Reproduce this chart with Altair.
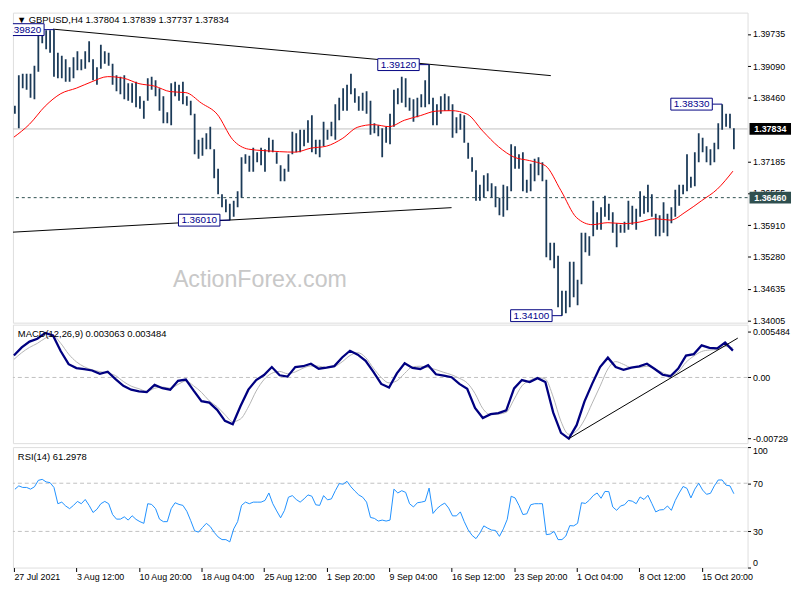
import json
import altair as alt
import pandas as pd

# ---------------- text ----------------
SYMBOL_TITLE = "\u25BC GBPUSD,H4  1.37804 1.37839 1.37737 1.37834"
MACD_TITLE = "MACD(12,26,9) 0.003063 0.003484"
RSI_TITLE = "RSI(14) 61.2978"
WATERMARK = "ActionForex.com"

# ---------------- price bars (each bar = two H4 bars) ----------------
HIGH = [
    1.3830, 1.3891, 1.3894, 1.3894, 1.3894, 1.3910, 1.3975, 1.3981, 1.3981, 1.3981,
    1.3982, 1.3936, 1.3930, 1.3923, 1.3907, 1.3927, 1.3939, 1.3923, 1.3939, 1.3959,
    1.3923, 1.3907, 1.3952, 1.3939, 1.3936, 1.3914, 1.3891, 1.3888, 1.3891, 1.3875,
    1.3875, 1.3878, 1.3849, 1.3840, 1.3885, 1.3888, 1.3881, 1.3865, 1.3849, 1.3817,
    1.3875, 1.3878, 1.3872, 1.3878, 1.3849, 1.3840, 1.3814, 1.3762, 1.3766, 1.3775,
    1.3788, 1.3743, 1.3704, 1.3653, 1.3643, 1.3634, 1.3640, 1.3659, 1.3727, 1.3733,
    1.3730, 1.3746, 1.3737, 1.3746, 1.3743, 1.3766, 1.3762, 1.3737, 1.3711, 1.3704,
    1.3733, 1.3778, 1.3775, 1.3782, 1.3782, 1.3801, 1.3811, 1.3762, 1.3762, 1.3798,
    1.3782, 1.3798, 1.3833, 1.3846, 1.3865, 1.3872, 1.3894, 1.3865, 1.3849, 1.3856,
    1.3859, 1.3840, 1.3795, 1.3791, 1.3785, 1.3788, 1.3814, 1.3862, 1.3865, 1.3888,
    1.3885, 1.3846, 1.3843, 1.3846, 1.3853, 1.3881, 1.3912, 1.3846, 1.3833, 1.3849,
    1.3854, 1.3849, 1.3833, 1.3807, 1.3814, 1.3811, 1.3756, 1.3727, 1.3701, 1.3672,
    1.3691, 1.3695, 1.3675, 1.3669, 1.3646, 1.3672, 1.3669, 1.3753, 1.3749, 1.3733,
    1.3737, 1.3682, 1.3714, 1.3724, 1.3727, 1.3717, 1.3682, 1.3556, 1.3556, 1.3530,
    1.3460, 1.3460, 1.3518, 1.3518, 1.3482, 1.3576, 1.3576, 1.3569, 1.3640, 1.3617,
    1.3627, 1.3650, 1.3634, 1.3617, 1.3595, 1.3592, 1.3598, 1.3640, 1.3630, 1.3624,
    1.3659, 1.3650, 1.3672, 1.3653, 1.3614, 1.3611, 1.3637, 1.3614, 1.3627, 1.3662,
    1.3672, 1.3672, 1.3733, 1.3688, 1.3737, 1.3775, 1.3766, 1.3749, 1.3743, 1.3756,
    1.3795, 1.3833, 1.3814, 1.3814, 1.3785,
]
LOW = [
    1.3814, 1.3785, 1.3865, 1.3862, 1.3846, 1.3843, 1.3898, 1.3955, 1.3943, 1.3936,
    1.3888, 1.3885, 1.3885, 1.3878, 1.3878, 1.3885, 1.3901, 1.3901, 1.3904, 1.3917,
    1.3881, 1.3872, 1.3904, 1.3914, 1.3910, 1.3872, 1.3859, 1.3853, 1.3843, 1.3840,
    1.3836, 1.3827, 1.3824, 1.3804, 1.3840, 1.3862, 1.3849, 1.3820, 1.3795, 1.3795,
    1.3791, 1.3849, 1.3840, 1.3833, 1.3830, 1.3811, 1.3733, 1.3724, 1.3730, 1.3743,
    1.3743, 1.3685, 1.3653, 1.3627, 1.3617, 1.3601, 1.3608, 1.3627, 1.3646, 1.3714,
    1.3698, 1.3698, 1.3717, 1.3711, 1.3698, 1.3737, 1.3737, 1.3714, 1.3679, 1.3679,
    1.3698, 1.3733, 1.3737, 1.3737, 1.3749, 1.3756, 1.3737, 1.3733, 1.3727, 1.3749,
    1.3762, 1.3769, 1.3762, 1.3801, 1.3820, 1.3820, 1.3853, 1.3836, 1.3820, 1.3820,
    1.3814, 1.3772, 1.3775, 1.3769, 1.3727, 1.3756, 1.3753, 1.3788, 1.3833, 1.3836,
    1.3827, 1.3820, 1.3798, 1.3807, 1.3827, 1.3827, 1.3833, 1.3791, 1.3791, 1.3814,
    1.3820, 1.3820, 1.3766, 1.3775, 1.3782, 1.3756, 1.3724, 1.3698, 1.3640, 1.3640,
    1.3646, 1.3659, 1.3646, 1.3627, 1.3611, 1.3608, 1.3621, 1.3659, 1.3704, 1.3704,
    1.3659, 1.3656, 1.3659, 1.3679, 1.3691, 1.3679, 1.3527, 1.3521, 1.3505, 1.3427,
    1.3410, 1.3415, 1.3427, 1.3447, 1.3431, 1.3473, 1.3537, 1.3530, 1.3569, 1.3582,
    1.3582, 1.3608, 1.3601, 1.3576, 1.3547, 1.3576, 1.3576, 1.3582, 1.3592, 1.3582,
    1.3608, 1.3614, 1.3617, 1.3608, 1.3569, 1.3569, 1.3576, 1.3569, 1.3595, 1.3608,
    1.3630, 1.3653, 1.3659, 1.3666, 1.3669, 1.3717, 1.3737, 1.3717, 1.3711, 1.3717,
    1.3743, 1.3782, 1.3788, 1.3785, 1.3743,
]

# ---------------- moving average (every 8 H4 bars) ----------------
MA = [
    1.3767, 1.3793, 1.3829, 1.3854, 1.3865, 1.3878, 1.3888, 1.3885, 1.3874, 1.3869,
    1.3858, 1.3856, 1.3835, 1.3813, 1.3762, 1.3743, 1.3740, 1.3738, 1.3737, 1.3745,
    1.3749, 1.3764, 1.3787, 1.3792, 1.3788, 1.3801, 1.3810, 1.3819, 1.3820, 1.3813,
    1.3779, 1.3748, 1.3727, 1.3720, 1.3710, 1.3660, 1.3606, 1.3592, 1.3596, 1.3594,
    1.3597, 1.3604, 1.3601, 1.3618, 1.3640, 1.3663, 1.3699,
]

# ---------------- MACD and signal (every 4 H4 bars) ----------------
MACD = [
    0.00261, 0.00358, 0.00427, 0.00461, 0.00530, 0.00500, 0.00312, 0.00158, 0.00112, 0.00098,
    0.00083, 0.00043, 0.00069, -0.00019, -0.00099, -0.00145, -0.00165, -0.00174, -0.00088, -0.00128,
    -0.00145, -0.00040, -0.00025, -0.00157, -0.00282, -0.00300, -0.00385, -0.00517, -0.00557, -0.00340,
    -0.00145, -0.00031, 0.00029, 0.00124, 0.00026, 0.00010, 0.00124, 0.00134, 0.00164, 0.00104,
    0.00118, 0.00135, 0.00238, 0.00318, 0.00272, 0.00198, 0.00066, -0.00077, -0.00119, 0.00049,
    0.00169, 0.00114, 0.00101, 0.00146, 0.00038, 0.00023, 0.00003, -0.00077, -0.00134, -0.00363,
    -0.00483, -0.00437, -0.00424, -0.00391, -0.00130, -0.00031, -0.00054, -0.00008, -0.00054, -0.00416,
    -0.00660, -0.00729, -0.00568, -0.00288, -0.00073, 0.00124, 0.00236, 0.00124, 0.00091, 0.00118,
    0.00132, 0.00164, 0.00101, 0.00032, 0.00015, 0.00106, 0.00261, 0.00278, 0.00383, 0.00352,
    0.00347, 0.00415, 0.00320,
]
SIGNAL = [
    0.00215, 0.00295, 0.00358, 0.00406, 0.00467, 0.00497, 0.00406, 0.00278, 0.00186, 0.00127,
    0.00091, 0.00070, 0.00051, 0.00022, -0.00048, -0.00103, -0.00134, -0.00165, -0.00129, -0.00113,
    -0.00129, -0.00083, -0.00042, -0.00100, -0.00177, -0.00279, -0.00348, -0.00443, -0.00526, -0.00494,
    -0.00351, -0.00162, -0.00025, 0.00050, 0.00072, 0.00045, 0.00066, 0.00111, 0.00137, 0.00135,
    0.00118, 0.00130, 0.00186, 0.00261, 0.00295, 0.00238, 0.00111, 0.00000, -0.00065, -0.00040,
    0.00049, 0.00127, 0.00134, 0.00118, 0.00093, 0.00061, 0.00032, -0.00010, -0.00065, -0.00191,
    -0.00371, -0.00443, -0.00436, -0.00414, -0.00260, -0.00100, -0.00037, 0.00000, -0.00019, -0.00231,
    -0.00523, -0.00677, -0.00637, -0.00505, -0.00305, -0.00105, 0.00101, 0.00189, 0.00156, 0.00118,
    0.00120, 0.00134, 0.00104, 0.00058, 0.00026, 0.00066, 0.00181, 0.00255, 0.00309, 0.00327,
    0.00332, 0.00369, 0.00350,
]

# ---------------- RSI (every 2 H4 bars) ----------------
RSI = [
    65.0, 67.8, 66.5, 66.5, 65.1, 67.0, 72.4, 73.2, 71.1, 70.5,
    66.5, 53.0, 54.3, 51.1, 48.9, 51.6, 54.9, 53.0, 56.5, 51.6,
    45.7, 48.4, 53.0, 54.9, 53.0, 44.0, 40.2, 40.2, 42.1, 39.4,
    43.0, 40.0, 38.1, 36.7, 53.0, 52.4, 48.9, 40.2, 38.1, 38.1,
    48.9, 53.8, 52.4, 51.6, 46.7, 38.9, 30.5, 29.4, 33.2, 36.7,
    34.0, 29.2, 25.4, 23.2, 23.2, 21.3, 32.1, 38.1, 51.6, 54.3,
    53.0, 54.3, 54.3, 54.3, 55.7, 61.9, 53.0, 47.0, 41.3, 47.5,
    58.4, 59.7, 56.5, 54.3, 57.0, 60.3, 59.2, 52.1, 51.6, 59.7,
    56.2, 57.0, 63.8, 69.7, 69.2, 71.6, 67.0, 63.5, 60.3, 58.4,
    54.3, 41.6, 40.8, 38.6, 39.4, 38.6, 39.4, 65.1, 61.9, 63.8,
    62.4, 53.0, 50.3, 53.8, 54.3, 55.1, 66.0, 44.9, 48.9, 51.6,
    53.5, 49.4, 42.9, 42.9, 46.2, 38.1, 31.3, 26.7, 24.0, 28.6,
    34.6, 32.7, 31.1, 30.8, 25.9, 32.1, 40.0, 59.2, 57.8, 51.6,
    44.0, 44.6, 52.1, 53.0, 53.0, 53.0, 27.3, 27.8, 30.0, 23.2,
    23.2, 26.2, 34.8, 34.6, 36.7, 53.8, 53.2, 55.9, 59.7, 61.9,
    57.5, 63.2, 63.0, 50.3, 47.5, 51.1, 52.1, 55.7, 55.1, 53.0,
    58.6, 56.5, 60.0, 53.2, 46.2, 47.8, 48.1, 51.1, 47.5, 55.7,
    61.9, 67.3, 65.7, 57.8, 65.1, 70.0, 64.3, 60.8, 61.6, 67.8,
    72.7, 72.7, 68.4, 67.8, 61.3,
]

# ---------------- levels, ticks, labels ----------------
CUR_PRICE = 1.37834
LEVEL = 1.36460
PRICE_TICKS = [1.39735, 1.39090, 1.38460, 1.37185, 1.36555, 1.35910, 1.35280, 1.34635, 1.34005]
MACD_TICKS = [0.005484, 0.0, -0.00729]
MACD_TICK_LABELS = ["0.005484", "0.00", "-0.00729"]
RSI_TICKS = [100, 70, 30, 0]
RSI_LEVELS = [70, 30]
X_LABEL_BARS = [0, 32, 64, 96, 128, 160, 192, 224, 256, 288, 320, 352]
X_LABELS = ["27 Jul 2021", "3 Aug 12:00", "10 Aug 20:00", "18 Aug 04:00", "25 Aug 12:00",
            "1 Sep 20:00", "9 Sep 04:00", "16 Sep 12:00", "23 Sep 20:00", "1 Oct 04:00",
            "8 Oct 12:00", "15 Oct 20:00"]

ANN_BARS = [20.5, 110.5, 212.5, 280.5, 362.5]
ANN_PRICES = [1.39820, 1.36010, 1.39120, 1.34100, 1.38330]
ANN_TEXT = ["1.39820", "1.36010", "1.39120", "1.34100", "1.38330"]

TREND_X1 = [20, -0.5]
TREND_P1 = [1.3983, 1.3577]
TREND_X2 = [274.8, 224]
TREND_P2 = [1.3890, 1.3626]

MACD_TREND_X1 = [284]
MACD_TREND_V1 = [-0.00729]
MACD_TREND_X2 = [370.5]
MACD_TREND_V2 = [0.00469]

# ---------------- styling ----------------
FONT = "Liberation Sans"
W = 744
H_PRICE, H_MACD, H_RSI = 314, 120, 122
X_MIN, X_MAX = -0.5, 375.5
BOX = "M-1,-0.2857L1,-0.2857L1,0.2857L-1,0.2857Z"

xscale = alt.Scale(domain=[X_MIN, X_MAX], nice=False, zero=False)
pscale = alt.Scale(domain=[1.3396, 1.4016], nice=False, zero=False)
mscale = alt.Scale(domain=[-0.00782, 0.00629], nice=False, zero=False)
rscale = alt.Scale(domain=[0, 100], nice=False, zero=False)

common_axis = dict(orient="right", labelFont=FONT, labelFontSize=9, labelColor="black",
                   ticks=True, tickSize=3, tickColor="black", domain=False, grid=False,
                   title=None, labelPadding=2, labelOverlap=False)
price_axis = alt.Axis(values=PRICE_TICKS, format=".5f", **common_axis)
macd_expr = ("datum.value > 0.001 ? '%s' : (datum.value < -0.001 ? '%s' : '%s')"
             % (MACD_TICK_LABELS[0], MACD_TICK_LABELS[2], MACD_TICK_LABELS[1]))
macd_axis = alt.Axis(values=MACD_TICKS, labelExpr=macd_expr, **common_axis)
rsi_axis = alt.Axis(values=RSI_TICKS, format="d", labelFlush=True, **common_axis)
x_axis = alt.Axis(values=X_LABEL_BARS,
                  labelExpr="%s[indexof(%s, datum.value)]" % (json.dumps(X_LABELS), json.dumps(X_LABEL_BARS)),
                  labelAlign="left", labelFlush=False, labelOverlap=False, labelFont=FONT,
                  labelFontSize=9, labelColor="black", ticks=True, tickSize=4, tickColor="black",
                  domain=False, grid=False, title=None, labelPadding=1)


def PX(f):
    return alt.X(f, type="quantitative", scale=xscale, axis=None)


def PY(f):
    return alt.Y(f, type="quantitative", scale=pscale, axis=price_axis)


def MY(f):
    return alt.Y(f, type="quantitative", scale=mscale, axis=macd_axis)


def RX(f):
    return alt.X(f, type="quantitative", scale=xscale, axis=x_axis)


def RY(f):
    return alt.Y(f, type="quantitative", scale=rscale, axis=rsi_axis)


# ---------------- data frames ----------------
bars = pd.DataFrame({"idx": [2 * k + 0.5 for k in range(len(HIGH))], "high": HIGH, "low": LOW})
ma_df = pd.DataFrame({"idx": [8 * m for m in range(len(MA))], "ma": MA})
macd_df = pd.DataFrame({"idx": [4 * n for n in range(len(MACD))], "macd": MACD, "signal": SIGNAL})
rsi_df = pd.DataFrame({"idx": [2 * k + 0.5 for k in range(len(RSI))], "rsi": RSI})
ann_df = pd.DataFrame({"idx": ANN_BARS, "price": ANN_PRICES, "label": ANN_TEXT})
trend_df = pd.DataFrame({"x1": TREND_X1, "p1": TREND_P1, "x2": TREND_X2, "p2": TREND_P2})
mtrend_df = pd.DataFrame({"x1": MACD_TREND_X1, "v1": MACD_TREND_V1, "x2": MACD_TREND_X2, "v2": MACD_TREND_V2})
axbox_df = pd.DataFrame({"idx": [X_MAX, X_MAX], "price": [CUR_PRICE, LEVEL],
                         "label": ["%.5f" % CUR_PRICE, "%.5f" % LEVEL],
                         "fill": ["#000000", "#2f4f4f"]})

# ---------------- price panel ----------------
watermark = alt.Chart(pd.DataFrame({"t": [WATERMARK]})).mark_text(
    align="left", baseline="middle", font=FONT, fontSize=23.5, color="#c8c8c8"
).encode(x=alt.value(162), y=alt.value(271), text="t:N")

cur_line = alt.Chart(pd.DataFrame({"p": [CUR_PRICE]})).mark_rule(color="#c0c0c0", strokeWidth=1).encode(y=PY("p"))
lvl_line = alt.Chart(pd.DataFrame({"p": [LEVEL]})).mark_rule(
    color="#2f4f4f", strokeWidth=1, strokeDash=[3, 3]).encode(y=PY("p"))

bar_layer = alt.Chart(bars).mark_rule(color="#1b3a58", strokeWidth=1.8, clip=True).encode(
    x=PX("idx"), y=PY("low"), y2="high")

ma_layer = alt.Chart(ma_df).mark_line(color="#ff0000", strokeWidth=1, interpolate="monotone", clip=True).encode(
    x=PX("idx"), y=PY("ma"))

trend_layer = alt.Chart(trend_df).mark_rule(color="black", strokeWidth=1, clip=True).encode(
    x=PX("x1"), x2="x2", y=PY("p1"), y2="p2")

ann_line = alt.Chart(ann_df).mark_rule(color="#000080", strokeWidth=1, xOffset=-10, clip=True).encode(
    x=PX("idx"), x2="idx", y=PY("price"))
ann_box = alt.Chart(ann_df).mark_point(
    shape=BOX, size=1764, filled=True, fill="white", stroke="#000080", strokeWidth=1,
    opacity=1, xOffset=-31, clip=True).encode(x=PX("idx"), y=PY("price"))
ann_text = alt.Chart(ann_df).mark_text(
    dx=-31, align="center", baseline="middle", font=FONT, fontSize=10, color="#00008b", clip=True
).encode(x=PX("idx"), y=PY("price"), text="label:N")

ax_box = alt.Chart(axbox_df).mark_point(
    shape=BOX, size=1764, filled=True, opacity=1, xOffset=23, strokeWidth=0
).encode(x=PX("idx"), y=PY("price"), fill=alt.Fill("fill:N", scale=None))
ax_text = alt.Chart(axbox_df).mark_text(
    dx=23, align="center", baseline="middle", font=FONT, fontSize=9, fontWeight="bold", color="white"
).encode(x=PX("idx"), y=PY("price"), text="label:N")

price_title = alt.Chart(pd.DataFrame({"t": [SYMBOL_TITLE]})).mark_text(
    align="left", baseline="middle", font=FONT, fontSize=9.5, color="black"
).encode(x=alt.value(4), y=alt.value(7), text="t:N")

price_chart = alt.layer(
    watermark, cur_line, lvl_line, bar_layer, ma_layer, trend_layer,
    ann_line, ann_box, ann_text, ax_box, ax_text, price_title
).properties(width=W, height=H_PRICE)

# ---------------- MACD panel ----------------
zero_line = alt.Chart(pd.DataFrame({"v": [0.0]})).mark_rule(
    color="#c0c0c0", strokeWidth=1, strokeDash=[4, 3]).encode(y=MY("v"))
sig_layer = alt.Chart(macd_df).mark_line(color="#b4b4b4", strokeWidth=1, interpolate="monotone").encode(
    x=PX("idx"), y=MY("signal"))
macd_layer = alt.Chart(macd_df).mark_line(color="#000080", strokeWidth=2.3, interpolate="linear").encode(
    x=PX("idx"), y=MY("macd"))
mtrend_layer = alt.Chart(mtrend_df).mark_rule(color="black", strokeWidth=1).encode(
    x=PX("x1"), x2="x2", y=MY("v1"), y2="v2")
macd_title = alt.Chart(pd.DataFrame({"t": [MACD_TITLE]})).mark_text(
    align="left", baseline="middle", font=FONT, fontSize=9.5, color="black"
).encode(x=alt.value(5), y=alt.value(10), text="t:N")

macd_chart = alt.layer(zero_line, sig_layer, macd_layer, mtrend_layer, macd_title).properties(
    width=W, height=H_MACD)

# ---------------- RSI panel ----------------
rsi_lines = alt.Chart(pd.DataFrame({"v": RSI_LEVELS})).mark_rule(
    color="#c0c0c0", strokeWidth=1, strokeDash=[4, 3]).encode(y=RY("v"))
rsi_layer = alt.Chart(rsi_df).mark_line(color="#1e90ff", strokeWidth=1).encode(
    x=RX("idx"), y=RY("rsi"))
rsi_title = alt.Chart(pd.DataFrame({"t": [RSI_TITLE]})).mark_text(
    align="left", baseline="middle", font=FONT, fontSize=9.5, color="black"
).encode(x=alt.value(5), y=alt.value(10), text="t:N")

rsi_chart = alt.layer(rsi_lines, rsi_layer, rsi_title).properties(width=W, height=H_RSI)

chart = alt.vconcat(
    price_chart,
    alt.vconcat(macd_chart, rsi_chart, spacing=4, bounds="flush"),
    spacing=2, bounds="flush"
).properties(padding=0).configure_view(
    stroke="black", strokeWidth=1
).configure(background="white")

chart.save("out.html", embed_options={"renderer": "svg", "actions": False})
